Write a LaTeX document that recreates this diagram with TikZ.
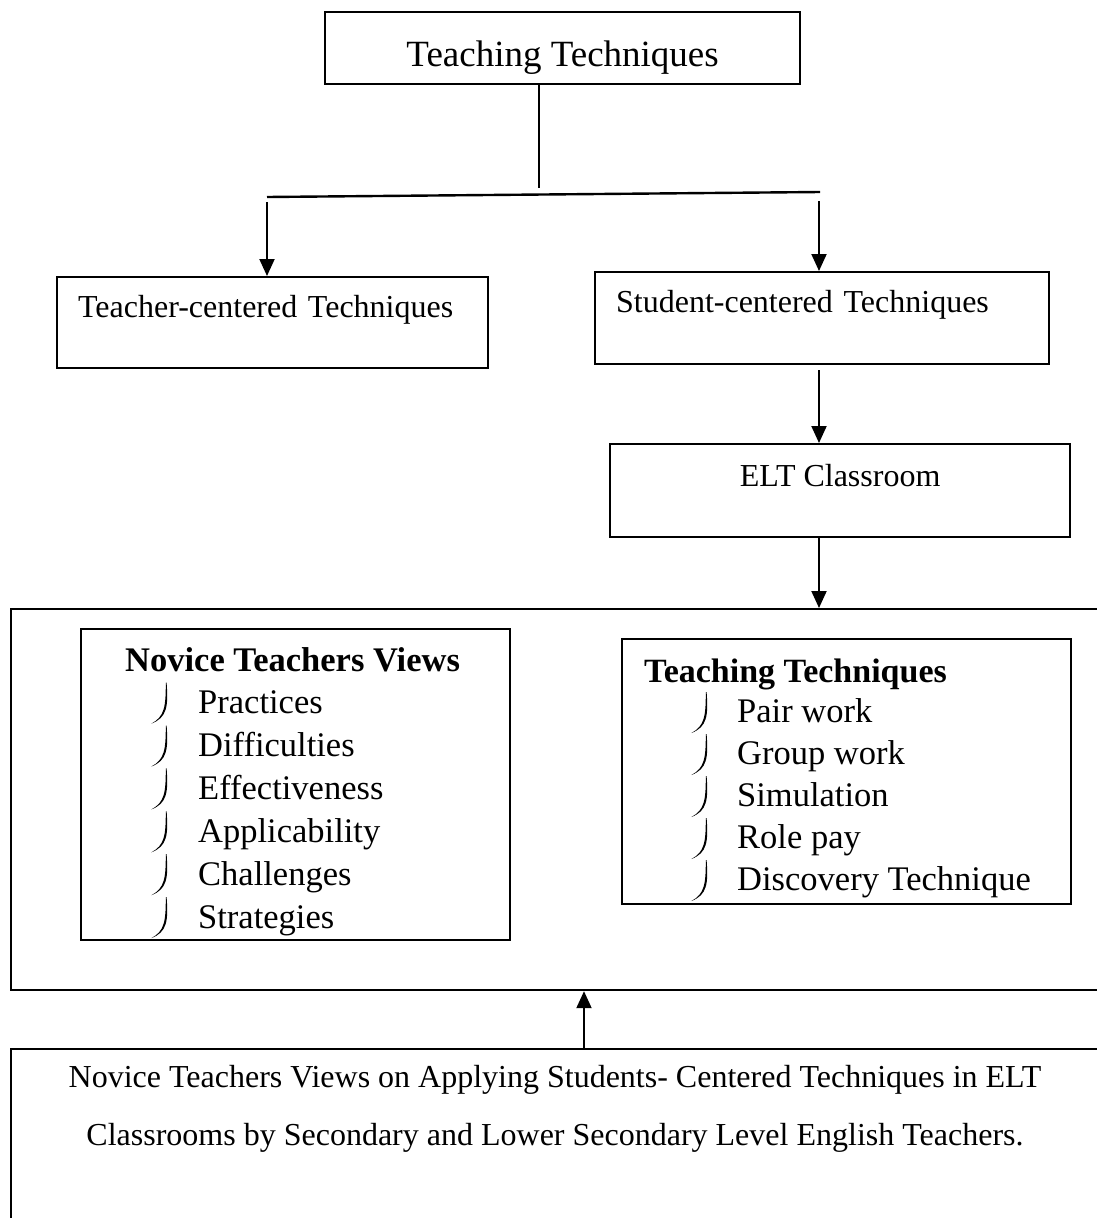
\documentclass[tikz,border=0pt]{standalone}
\usepackage{fontspec}
\setmainfont{Liberation Serif}
\usetikzlibrary{arrows.meta}

\tikzset{
  box/.style={draw, line width=2.2pt, rectangle, inner sep=0pt, anchor=north west},
  link/.style={line width=2pt, -{Triangle[width=15pt,length=17pt]}},
  plain/.style={font=\fontsize{32}{38}\selectfont},
  item/.style={anchor=base west, inner sep=0pt, font=\fontsize{34.5}{41}\selectfont},
  head/.style={anchor=base west, inner sep=0pt, font=\fontsize{34.5}{41}\selectfont\bfseries},
  line/.style={anchor=base, inner sep=0pt, font=\fontsize{32}{38}\selectfont},
  % hook-shaped list mark, origin at its top left
  hook/.pic={
    \fill (15.6,0) .. controls (17.4,24) and (16,35) .. (0.4,41)
          .. controls (13.6,34) and (14.8,24) .. (14.8,0) -- cycle;
  },
}

\begin{document}
\begin{tikzpicture}[x=1pt, y=-1pt]

  %% ==== top part ====
  \node[box, minimum width=475, text height=54, text depth=18,
        font=\fontsize{37}{44}\selectfont] (tt) at (324,11) {Teaching Techniques};
  \node[box, plain, align=left, text width=389, inner xsep=21, inner ysep=0pt,
        text height=40, text depth=51] (tc) at (56,276) {Teacher-centered Techniques};
  \node[box, plain, align=left, text width=412, inner xsep=21, inner ysep=0pt,
        text height=40, text depth=52] (sc) at (594,271) {Student-centered Techniques};
  \node[box, plain, minimum width=460, text height=42, text depth=51] (elt) at (609,443) {ELT Classroom};

  \coordinate (jn) at (539,188);
  \coordinate (hl) at (267,197);
  \coordinate (hr) at (820,192);
  \coordinate (al) at (267,202);
  \coordinate (ar) at (819,201);
  \draw[line width=2pt] (tt.south -| jn) -- (jn);
  \draw[line width=2.4pt] (hl) -- (hr);
  \draw[link] (al) -- (al |- tc.north);
  \draw[link] (ar) -- (ar |- sc.north);
  \draw[link] ([yshift=-5pt]sc.south -| ar) -- (elt.north -| ar);

  %% ==== middle frame ====
  \node[box, minimum width=1100, minimum height=381] (frame) at (10,608) {};
  \node[box, minimum width=429, minimum height=311] (nvbox) at (80,628) {};
  \node[box, minimum width=449, minimum height=265] (ttbox) at (621,638) {};
  \draw[link] (elt.south -| ar) -- (frame.north -| ar);

  \node[head] (nvhead) at (125,671) {Novice Teachers Views};
  \foreach \w [count=\i] in {Practices,Difficulties,Effectiveness,Applicability,Challenges,Strategies} {
    \pic at (151,639.7+42.9*\i) {hook};
    \node[item] (nvi\i) at (198,670.7+42.9*\i) {\w};
  }

  \node[head, font=\fontsize{34}{41}\selectfont\bfseries] (tthead) at (644,682) {Teaching Techniques};
  \foreach \w [count=\i] in {Pair work,Group work,Simulation,Role pay,Discovery Technique} {
    \pic at (691,650+42*\i) {hook};
    \node[item] (tti\i) at (737,680+42*\i) {\w};
  }

  %% ==== bottom box ====
  \node[box, minimum width=1090, minimum height=200] (bt) at (10,1048) {};
  \node[line] (bl1) at (555,1087) {Novice Teachers Views on Applying Students- Centered Techniques in ELT};
  \node[line] (bl2) at (555,1145) {Classrooms by Secondary and Lower Secondary Level English Teachers.};
  \coordinate (au) at (584,1000);
  \draw[link] (bt.north -| au) -- (frame.south -| au);

  \pgfresetboundingbox
  \path[use as bounding box] (0,0) rectangle (1096,1218);
\end{tikzpicture}
\end{document}
